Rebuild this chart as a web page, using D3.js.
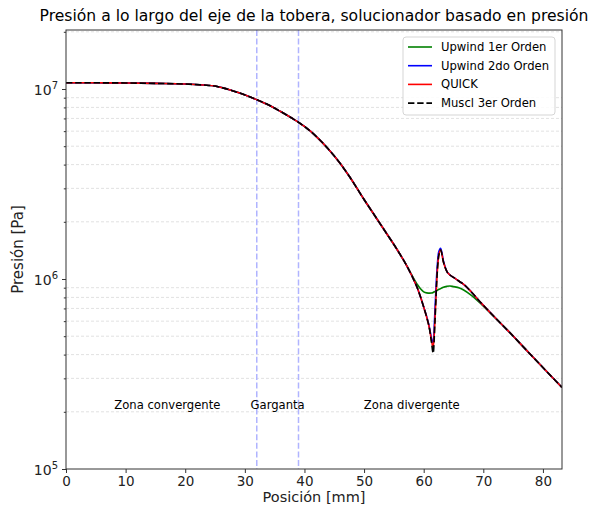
<!DOCTYPE html>
<html>
<head>
<meta charset="utf-8">
<script src="https://cdn.jsdelivr.net/npm/d3@7/dist/d3.min.js"></script>
<style>
  html, body { margin: 0; padding: 0; background: #fff; }
  svg { display: block; font-family: "DejaVu Sans", sans-serif; }
</style>
</head>
<body>
<svg id="chart" width="593" height="506"></svg>
<script>
// Axial position along the nozzle [mm]
const positions = [0, 5, 10, 15, 20, 23, 25, 27, 29, 31, 32, 34, 36, 38, 39, 40, 42, 44, 46, 47.6,
  50, 52, 54, 55, 56, 57, 58, 59, 59.5, 60, 60.5, 61, 61.3, 61.6, 61.9, 62.2, 62.5, 62.85, 63.3, 63.9,
  64.4, 65, 66, 66.7, 68, 69.7, 72, 74, 76, 78, 80, 82, 83.2];

// Pressure [Pa] for each discretisation scheme
const upwind1 = [1.079e7, 1.078e7, 1.076e7, 1.07e7, 1.062e7, 1.05e7, 1.037e7, 1.0e7, 9.55e6, 9.05e6, 8.79e6,
  8.24e6, 7.61e6, 6.99e6, 6.68e6, 6.35e6, 5.62e6, 4.83e6, 4.055e6, 3.44e6,
  2.62e6, 2.107e6, 1.694e6, 1.519e6, 1.354e6, 1.2e6, 1.05e6, 9.3e5, 8.85e5, 8.56e5, 8.45e5, 8.43e5, 8.44e5, 8.5e5,
  8.6e5, 8.7e5, 8.8e5, 8.9e5, 9.05e5, 9.15e5, 9.19e5, 9.12e5, 8.97e5, 8.75e5, 8.2e5, 7.35e5, 6.24e5,
  5.40e5, 4.64e5, 3.98e5, 3.42e5, 2.94e5, 2.69e5];
const upwind2 = [1.079e7, 1.078e7, 1.076e7, 1.07e7, 1.062e7, 1.05e7, 1.037e7, 1.0e7, 9.55e6, 9.05e6, 8.79e6,
  8.24e6, 7.61e6, 6.99e6, 6.68e6, 6.35e6, 5.62e6, 4.83e6, 4.055e6, 3.44e6,
  2.62e6, 2.107e6, 1.694e6, 1.519e6, 1.354e6, 1.199e6, 1.043e6, 8.86e5, 7.99e5, 7.12e5, 6.35e5, 5.5e5, 4.9e5, 4.6e5,
  7.0e5, 1.08e6, 1.38e6, 1.45e6, 1.25e6, 1.095e6, 1.05e6, 1.02e6, 9.70e5, 9.38e5, 8.54e5, 7.44e5, 6.25e5,
  5.40e5, 4.64e5, 3.98e5, 3.42e5, 2.94e5, 2.69e5];
const quick = [1.079e7, 1.078e7, 1.076e7, 1.07e7, 1.062e7, 1.05e7, 1.037e7, 1.0e7, 9.55e6, 9.05e6, 8.79e6,
  8.24e6, 7.61e6, 6.99e6, 6.68e6, 6.35e6, 5.62e6, 4.83e6, 4.055e6, 3.44e6,
  2.62e6, 2.107e6, 1.694e6, 1.519e6, 1.354e6, 1.199e6, 1.043e6, 8.86e5, 7.99e5, 7.12e5, 6.3e5, 5.42e5, 4.75e5, 4.34e5,
  6.2e5, 9.9e5, 1.31e6, 1.42e6, 1.233e6, 1.092e6, 1.05e6, 1.02e6, 9.70e5, 9.38e5, 8.54e5, 7.44e5, 6.25e5,
  5.40e5, 4.64e5, 3.98e5, 3.42e5, 2.94e5, 2.69e5];
const muscl3 = [1.079e7, 1.078e7, 1.076e7, 1.07e7, 1.062e7, 1.05e7, 1.037e7, 1.0e7, 9.55e6, 9.05e6, 8.79e6,
  8.24e6, 7.61e6, 6.99e6, 6.68e6, 6.35e6, 5.62e6, 4.83e6, 4.055e6, 3.44e6,
  2.62e6, 2.107e6, 1.694e6, 1.519e6, 1.354e6, 1.199e6, 1.043e6, 8.86e5, 7.99e5, 7.12e5, 6.3e5, 5.40e5, 4.66e5, 4.07e5,
  6.08e5, 9.89e5, 1.31e6, 1.42e6, 1.233e6, 1.092e6, 1.05e6, 1.02e6, 9.70e5, 9.38e5, 8.54e5, 7.44e5, 6.25e5,
  5.40e5, 4.64e5, 3.98e5, 3.42e5, 2.94e5, 2.69e5];

const seriesNames = ["Upwind 1er Orden", "Upwind 2do Orden", "QUICK", "Muscl 3er Orden"];
const seriesColors = ["#008000", "#0000ff", "#ff0000", "#000000"];
const seriesDash = [null, null, null, "6.4,2.8"];
const seriesValues = [upwind1, upwind2, quick, muscl3];

// Section boundaries (throat) and zone labels
const throatLines = [32, 39];
const zoneLabels = ["Zona convergente", "Garganta", "Zona divergente"];
const zoneLabelX = [17, 35.5, 58];
const zoneLabelY = 2e5;

const xTicks = [0, 10, 20, 30, 40, 50, 60, 70, 80];
const yMajor = [1e5, 1e6, 1e7];
const yMinor = [2e5, 3e5, 4e5, 5e5, 6e5, 7e5, 8e5, 9e5, 2e6, 3e6, 4e6, 5e6, 6e6, 7e6, 8e6, 9e6, 2e7];

const titleText = "Presión a lo largo del eje de la tobera, solucionador basado en presión";
const xLabel = "Posición [mm]";
const yLabel = "Presión [Pa]";

const plotLeft = 66, plotRight = 562, plotTop = 30, plotBottom = 469;
const svg = d3.select("#chart");

const x = d3.scaleLinear().domain([0, 83.2]).range([plotLeft, plotRight]);
const y = d3.scaleLog().domain([1e5, Math.pow(10, 7 + 59 / 190)]).range([plotBottom, plotTop]);

// Minor grid (dashed, light)
svg.append("g").selectAll("line").data(yMinor).join("line")
  .attr("x1", plotLeft).attr("x2", plotRight)
  .attr("y1", d => y(d)).attr("y2", d => y(d))
  .attr("stroke", "#d9d9d9").attr("stroke-width", 0.8).attr("stroke-dasharray", "3,2");

// Throat boundaries
svg.append("g").selectAll("line").data(throatLines).join("line")
  .attr("x1", d => x(d)).attr("x2", d => x(d))
  .attr("y1", plotTop).attr("y2", plotBottom)
  .attr("stroke", "#b0b4ff").attr("stroke-width", 1.5).attr("stroke-dasharray", "6,2.6");

// Zone labels
svg.append("g").selectAll("text").data(zoneLabels).join("text")
  .attr("x", (d, i) => x(zoneLabelX[i]))
  .attr("y", y(zoneLabelY) - 2.5)
  .attr("text-anchor", "middle")
  .attr("font-size", 11.6).attr("fill", "#000")
  .text(d => d);

// Pressure curves
svg.append("clipPath").attr("id", "plotclip")
  .append("rect").attr("x", plotLeft).attr("y", plotTop)
  .attr("width", plotRight - plotLeft).attr("height", plotBottom - plotTop);
const line = d3.line().curve(d3.curveMonotoneX);
const curves = svg.append("g").attr("clip-path", "url(#plotclip)");
seriesValues.forEach((vals, i) => {
  curves.append("path")
    .attr("d", line(positions.map((p, j) => [x(p), y(vals[j])])))
    .attr("fill", "none")
    .attr("stroke", seriesColors[i])
    .attr("stroke-width", 1.6)
    .attr("stroke-dasharray", seriesDash[i]);
});

// Axes
const xAxis = d3.axisBottom(x).tickValues(xTicks).tickSize(4).tickPadding(3.5).tickFormat(d3.format("d"));
const gx = svg.append("g").attr("transform", `translate(0,${plotBottom})`).call(xAxis);
gx.select(".domain").remove();
gx.selectAll("line").attr("stroke", "#333");
gx.selectAll("text").attr("font-size", 13.5).attr("fill", "#222").attr("font-family", "DejaVu Sans");

const yAxis = d3.axisLeft(y).tickValues(yMajor).tickSize(4).tickPadding(4).tickFormat(() => "");
const gy = svg.append("g").attr("transform", `translate(${plotLeft},0)`).call(yAxis);
gy.select(".domain").remove();
gy.selectAll("line").attr("stroke", "#333");
gy.selectAll(".tick text").each(function (d) {
  const t = d3.select(this).attr("font-size", 14).attr("fill", "#222")
    .attr("font-family", "DejaVu Sans").attr("dy", "0.4em");
  t.append("tspan").text("10");
  t.append("tspan").attr("font-size", 10).attr("dy", "-0.6em").text(Math.round(Math.log10(d)));
});

const yAxisMinor = d3.axisLeft(y).tickValues(yMinor).tickSize(2.2).tickFormat(() => "");
const gym = svg.append("g").attr("transform", `translate(${plotLeft},0)`).call(yAxisMinor);
gym.select(".domain").remove();
gym.selectAll("line").attr("stroke", "#333");

// Frame
svg.append("rect").attr("x", plotLeft).attr("y", plotTop)
  .attr("width", plotRight - plotLeft).attr("height", plotBottom - plotTop)
  .attr("fill", "none").attr("stroke", "#333").attr("stroke-width", 1);

// Labels and title
svg.append("text").attr("x", (plotLeft + plotRight) / 2).attr("y", 502).attr("text-anchor", "middle")
  .attr("font-size", 14.5).attr("fill", "#222").text(xLabel);
svg.append("text").attr("transform", `translate(23,${(plotTop + plotBottom) / 2}) rotate(-90)`)
  .attr("text-anchor", "middle").attr("font-size", 15).attr("fill", "#222").text(yLabel);
svg.append("text").attr("x", (plotLeft + plotRight) / 2).attr("y", 21).attr("text-anchor", "middle")
  .attr("font-size", 15.6).attr("fill", "#000").text(titleText);

// Legend
const lg = svg.append("g");
lg.append("rect").attr("x", 403).attr("y", 37).attr("width", 152).attr("height", 78)
  .attr("rx", 3).attr("fill", "#fff").attr("fill-opacity", 0.85)
  .attr("stroke", "#d5d5d5").attr("stroke-width", 1);
seriesNames.forEach((name, i) => {
  const ry = 47 + i * 18.7;
  lg.append("line").attr("x1", 408).attr("x2", 432).attr("y1", ry).attr("y2", ry)
    .attr("stroke", seriesColors[i]).attr("stroke-width", 1.6)
    .attr("stroke-dasharray", seriesDash[i]);
  lg.append("text").attr("x", 441).attr("y", ry + 4).attr("font-size", 11.6).attr("fill", "#000").text(name);
});
</script>
</body>
</html>
